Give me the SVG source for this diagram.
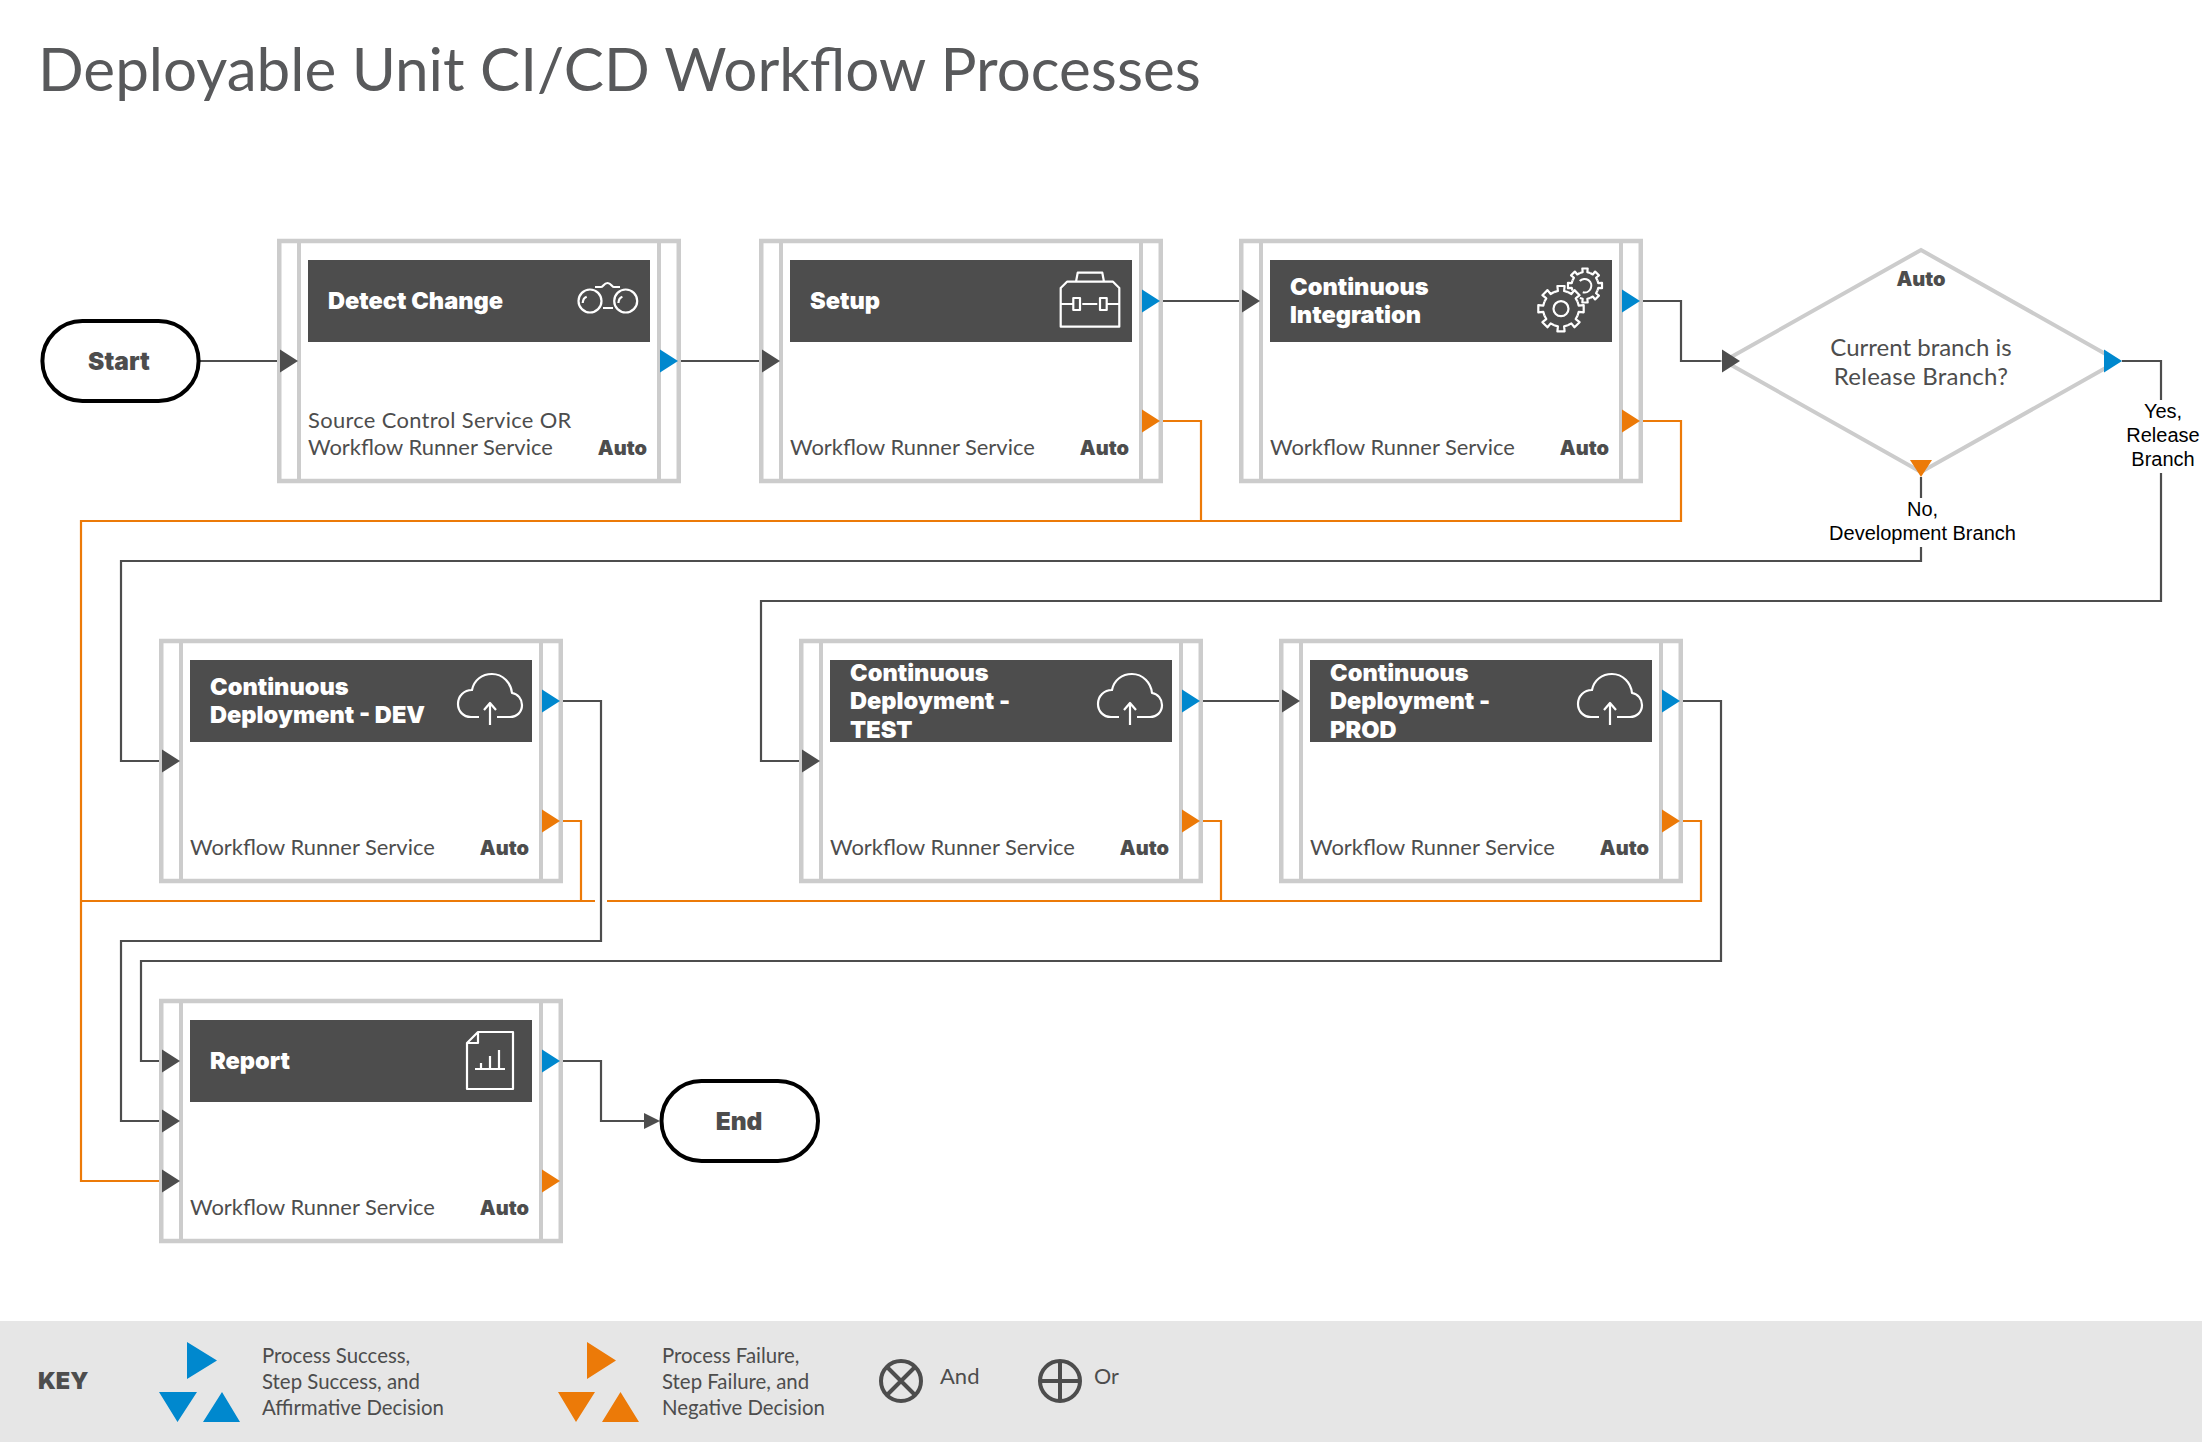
<svg xmlns="http://www.w3.org/2000/svg" width="2202" height="1442" viewBox="0 0 2202 1442">
<style>
.box{fill:#fff;stroke:#ccc;stroke-width:4.500}
.bar{stroke:#ccc;stroke-width:4}
.hd{fill:#4d4d4d}
.ht{font:900 23.600px Inter,"Open Sans",sans-serif;fill:#fff}
.sv{font:400 21.900px Lato,"Open Sans",sans-serif;fill:#4d4d4d}
.au{font:900 20px Inter,"Open Sans",sans-serif;fill:#4d4d4d;text-anchor:end}
.lb{font:400 20px "Liberation Sans",Arial,sans-serif;fill:#000;text-anchor:middle}
.kt{font:400 20.400px Lato,"Open Sans",sans-serif;fill:#4d4d4d}
.ic{fill:none;stroke:#fff;stroke-width:2.200;stroke-linejoin:round}
.c{fill:none;stroke:#4d4d4d;stroke-width:2.200}
.o{fill:none;stroke:#ec7a08;stroke-width:2.200}
.ai{fill:#4d4d4d}.as{fill:#0088ce}.af{fill:#ec7a08}
.pill{fill:#fff;stroke:#000;stroke-width:4}
.pt{font:900 24.500px Inter,"Open Sans",sans-serif;fill:#4d4d4d;text-anchor:middle}
</style>
<defs>
<path id="in" d="M0-11.500L18 0L0 11.500Z"/>
<g id="frame">
<rect class="box" x="1.250" y="1" width="399.500" height="240"/>
<line class="bar" x1="21" y1="1" x2="21" y2="241"/>
<line class="bar" x1="381" y1="1" x2="381" y2="241"/>
<rect class="hd" x="30" y="20" width="342" height="82"/>
</g>
<g id="cloud" class="ic"><path d="M319 77H311C303 77 298 71 298 64C298 56 304 50 312 50C314 40 322 34 332 34C343 34 351 43 352 53C358 54 362 59 362 65C362 72 357 77 350 77H337M330 85V63M324 70L330 63L336 70"/></g>
<path id="tooth" d="M-6.900-16.600L-3.100-17.700L-3.600-22.700H3.600L3.100-17.700L6.900-16.600"/>
</defs>
<text x="38" y="91" font-family="Lato,'Open Sans',sans-serif" font-size="60.200" fill="#58595b">Deployable Unit CI/CD Workflow Processes</text>

<g id="connectors">
<path class="o" d="M1161 421H1201V521M1640 421H1681V521H81V1181H162"/>
<path class="o" d="M560 821H581V901M595 901H81M607 901H1701V821H1680M1200 821H1221V901"/>
<path class="c" d="M200 361H280M679 361H762M1159 301H1242M1640 301H1681V361H1722"/>
<path class="c" d="M1921 477V498M1921 547V561H121V761H162"/>
<path class="c" d="M2122 361H2161V400M2161 473V601H761V761H802"/>
<path class="c" d="M560 701H601V941H121V1121H162"/>
<path class="c" d="M1200 701H1282M1680 701H1721V961H141V1061H162"/>
<path class="c" d="M560 1061H601V1121H644"/>
</g>

<g id="start"><rect class="pill" x="42.400" y="321" width="156.200" height="80" rx="40"/><text class="pt" x="119" y="370">Start</text></g>

<g id="detect-change" transform="translate(278 240)">
<use href="#frame"/>
<text class="ht" x="50" y="69">Detect Change</text>
<text class="sv" x="30" y="188" style="letter-spacing:.33px">Source Control Service OR</text>
<text class="sv" x="30" y="215">Workflow Runner Service</text>
<text class="au" x="369" y="215">Auto</text>
<g class="ic"><circle cx="312" cy="61" r="11.500"/><circle cx="347.700" cy="61" r="11.500"/><path d="M304.700 63Q305 58 308.700 56.700M340.400 63Q340.700 58 344.400 56.700M325 68H335M317 47H323C325 47 326 43 329.500 43C333 43 334 47 336 47H342"/></g>
<use href="#in" class="ai" x="2" y="121"/><use href="#in" class="as" x="382" y="121"/>
</g>

<g id="setup" transform="translate(760 240)">
<use href="#frame"/>
<text class="ht" x="50" y="69">Setup</text>
<text class="sv" x="30" y="215">Workflow Runner Service</text>
<text class="au" x="369" y="215">Auto</text>
<g class="ic"><path d="M300.700 48L307 41.700H353L359.300 48V86.700H300.700ZM316 41.700L317.700 32.700H342.300L344 41.700M300.700 64H313.300M322.300 64H337.300M346.700 64H359.300"/><rect x="313.300" y="58" width="6.700" height="12"/><rect x="340" y="58" width="6.700" height="12"/></g>
<use href="#in" class="ai" x="2" y="121"/><use href="#in" class="as" x="382" y="61"/><use href="#in" class="af" x="382" y="181"/>
</g>

<g id="continuous-integration" transform="translate(1240 240)">
<use href="#frame"/>
<text class="ht" x="50" y="55">Continuous</text>
<text class="ht" x="50" y="83">Integration</text>
<text class="sv" x="30" y="215">Workflow Runner Service</text>
<text class="au" x="369" y="215">Auto</text>
<g class="ic" transform="translate(321 68.700)"><circle r="7.500"/><use href="#tooth"/><use href="#tooth" transform="rotate(45)"/><use href="#tooth" transform="rotate(90)"/><use href="#tooth" transform="rotate(135)"/><use href="#tooth" transform="rotate(180)"/><use href="#tooth" transform="rotate(225)"/><use href="#tooth" transform="rotate(270)"/><use href="#tooth" transform="rotate(315)"/></g>
<g class="ic" style="stroke-width:2.900" transform="translate(345 45.500) scale(.75)"><path d="M-7-6A9 9 0 1 1 -3 9"/><use href="#tooth"/><use href="#tooth" transform="rotate(45)"/><use href="#tooth" transform="rotate(90)"/><use href="#tooth" transform="rotate(135)"/><use href="#tooth" transform="rotate(180)"/><use href="#tooth" transform="rotate(270)"/><use href="#tooth" transform="rotate(315)"/></g>
<use href="#in" class="ai" x="2" y="61"/><use href="#in" class="as" x="382" y="61"/><use href="#in" class="af" x="382" y="181"/>
</g>

<g id="decision">
<path fill="#fff" stroke="#ccc" stroke-width="4" d="M1921 250L2118 361L1921 472L1724 361Z"/>
<text class="au" x="1921" y="286" style="text-anchor:middle">Auto</text>
<text class="sv" x="1921" y="356" style="text-anchor:middle;font-size:24px">Current branch is</text>
<text class="sv" x="1921" y="384.500" style="text-anchor:middle;font-size:24px;letter-spacing:.25px">Release Branch?</text>
<use href="#in" class="ai" x="1722" y="361"/><use href="#in" class="as" x="2104" y="361"/>
<path class="af" d="M1910 460H1932L1921 477Z"/>
</g>
<g id="label-no"><text class="lb" x="1922.500" y="516">No,</text><text class="lb" x="1922.500" y="540">Development Branch</text></g>
<g id="label-yes"><text class="lb" x="2163" y="418">Yes,</text><text class="lb" x="2163" y="442">Release</text><text class="lb" x="2163" y="466">Branch</text></g>

<g id="cd-dev" transform="translate(160 640)">
<use href="#frame"/>
<text class="ht" x="50" y="55">Continuous</text>
<text class="ht" x="50" y="83">Deployment - DEV</text>
<text class="sv" x="30" y="215">Workflow Runner Service</text>
<text class="au" x="369" y="215">Auto</text>
<use href="#cloud"/>
<use href="#in" class="ai" x="2" y="121"/><use href="#in" class="as" x="382" y="61"/><use href="#in" class="af" x="382" y="181"/>
</g>

<g id="cd-test" transform="translate(800 640)">
<use href="#frame"/>
<text class="ht" x="50" y="41">Continuous</text>
<text class="ht" x="50" y="69">Deployment -</text>
<text class="ht" x="50" y="98">TEST</text>
<text class="sv" x="30" y="215">Workflow Runner Service</text>
<text class="au" x="369" y="215">Auto</text>
<use href="#cloud"/>
<use href="#in" class="ai" x="2" y="121"/><use href="#in" class="as" x="382" y="61"/><use href="#in" class="af" x="382" y="181"/>
</g>

<g id="cd-prod" transform="translate(1280 640)">
<use href="#frame"/>
<text class="ht" x="50" y="41">Continuous</text>
<text class="ht" x="50" y="69">Deployment -</text>
<text class="ht" x="50" y="98">PROD</text>
<text class="sv" x="30" y="215">Workflow Runner Service</text>
<text class="au" x="369" y="215">Auto</text>
<use href="#cloud"/>
<use href="#in" class="ai" x="2" y="61"/><use href="#in" class="as" x="382" y="61"/><use href="#in" class="af" x="382" y="181"/>
</g>

<g id="report" transform="translate(160 1000)">
<use href="#frame"/>
<text class="ht" x="50" y="69">Report</text>
<text class="sv" x="30" y="215">Workflow Runner Service</text>
<text class="au" x="369" y="215">Auto</text>
<g class="ic"><path d="M307 43L318 32H353V89H307ZM307 43H318V32M315 69H345M321 69V63M330 69V56M339 69V50"/></g>
<use href="#in" class="ai" x="2" y="61"/><use href="#in" class="ai" x="2" y="121"/><use href="#in" class="ai" x="2" y="181"/><use href="#in" class="as" x="382" y="61"/><use href="#in" class="af" x="382" y="181"/>
</g>

<g id="end"><rect class="pill" x="661.500" y="1081" width="156.500" height="80" rx="40"/><text class="pt" x="739" y="1130">End</text><path class="ai" d="M644 1113L660 1121L644 1129Z"/></g>

<g id="key">
<rect x="0" y="1321" width="2202" height="121" fill="#e6e6e6"/>
<text x="38" y="1389" style="font:900 23.500px Inter,'Open Sans',sans-serif;fill:#4d4d4d">KEY</text>
<path class="as" d="M187 1342L217 1360.500L187 1379ZM159 1392H197L177.500 1422ZM203 1422H240L222 1392Z"/>
<text class="kt" x="262" y="1362.500">Process Success,</text><text class="kt" x="262" y="1388.500">Step Success, and</text><text class="kt" x="262" y="1414.500">Affirmative Decision</text>
<path class="af" d="M587 1342L616 1360.500L587 1379ZM558 1392H595L576 1422ZM602 1422H639L620.500 1392Z"/>
<text class="kt" x="662" y="1362.500">Process Failure,</text><text class="kt" x="662" y="1388.500">Step Failure, and</text><text class="kt" x="662" y="1414.500">Negative Decision</text>
<g fill="none" stroke="#4d4d4d" stroke-width="4"><circle cx="901" cy="1381" r="20"/><path d="M887 1367L915 1395M915 1367L887 1395"/><circle cx="1060" cy="1381" r="20"/><path d="M1040 1381H1080M1060 1361V1401"/></g>
<text class="kt" x="940" y="1384" style="font-size:22px">And</text><text class="kt" x="1094" y="1384" style="font-size:21.500px">Or</text>
</g>
</svg>
